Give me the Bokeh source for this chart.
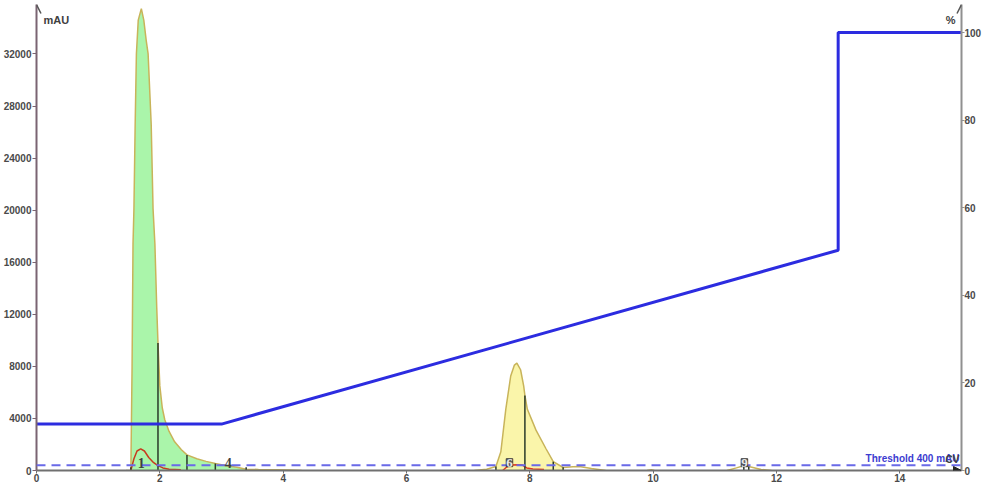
import numpy as np
from bokeh.plotting import figure
from bokeh.models import (Range1d, LinearAxis, FixedTicker, Arrow, OpenHead, NormalHead,
                          Label, LabelSet, ColumnDataSource, Span)
from bokeh.embed import file_html
from bokeh.resources import INLINE

# ---------------- data ----------------
peak1_cv = [1.45, 1.50, 1.53, 1.55, 1.565, 1.58, 1.60, 1.62, 1.65, 1.70, 1.74, 1.78, 1.81, 1.86,
            1.89, 1.92, 1.95, 1.97, 2.00, 2.04, 2.08, 2.15, 2.24, 2.35, 2.44, 2.60, 2.75, 2.90,
            3.10, 3.25, 3.40, 3.60, 3.90, 4.10, 4.30]
peak1_mau = [0, 0, 0, 8000, 17400, 20100, 26600, 32000, 34600, 35480, 34600, 33000, 32000, 26600,
             20100, 17400, 12500, 9800, 6500, 4800, 3900, 3000, 2200, 1600, 1200, 900, 700, 530,
             350, 250, 100, 80, 60, 40, 0]
peak2_cv = [7.10, 7.30, 7.45, 7.53, 7.61, 7.69, 7.75, 7.79, 7.85, 7.90, 7.92, 7.96, 8.10, 8.26,
            8.38, 8.54, 8.70, 8.80, 9.00, 9.23]
peak2_mau = [0, 100, 300, 1440, 4700, 7260, 8100, 8250, 7740, 6500, 5770, 4700, 3100, 1690,
             680, 230, 280, 300, 150, 0]
blip1_cv = [9.90, 9.97, 10.02]
blip1_mau = [0, 60, 0]
peak3_cv = [11.20, 11.35, 11.48, 11.60, 11.75, 11.92]
peak3_mau = [0, 200, 380, 250, 80, 0]
blip2_cv = [12.74, 12.85, 12.94]
blip2_mau = [0, 40, 0]

red1_cv = [1.53, 1.58, 1.63, 1.69, 1.75, 1.82, 1.90, 1.97, 2.05, 2.15, 2.34]
red1_mau = [0, 900, 1500, 1660, 1500, 1000, 600, 380, 200, 100, 60]
red2_cv = [7.56, 7.62, 7.69, 7.80, 7.88, 7.95, 8.05, 8.23]
red2_mau = [0, 250, 430, 450, 420, 200, 120, 80]

grad_cv = [0, 3, 13, 13, 15]
grad_pct = [10.6, 10.6, 50.3, 100, 100]

frac_cv = [1.53, 1.97, 2.44, 2.90, 3.40, 7.45, 7.92, 8.38, 8.54, 11.47, 11.55]
pool1 = (1.53, 3.40)
pool2 = (7.45, 8.54)

label_cv = [1.70, 3.11]
label_mau = [600, 600]
label_txt = ["1", "4"]
label2_cv = [7.67, 11.48]
label2_mau = [600, 600]
label2_txt = ["6", "9"]

threshold = 400
x_ticks = [0, 2, 4, 6, 8, 10, 12, 14]
y_ticks = [0, 4000, 8000, 12000, 16000, 20000, 24000, 28000, 32000]
pct_ticks = [0, 20, 40, 60, 80, 100]

Y_END = 35800
PCT_END = 106.4

# ---------------- figure ----------------
p = figure(width=984, height=484, x_range=Range1d(0, 15), y_range=Range1d(0, Y_END),
           output_backend="svg", toolbar_location=None,
           min_border_top=4, min_border_left=0, min_border_right=0, min_border_bottom=0)
p.extra_y_ranges = {"pct": Range1d(0, PCT_END)}
p.grid.visible = False
p.outline_line_color = None
p.background_fill_color = "white"

FONT = "Liberation Sans"
LABEL_COL = "#4a4a4a"

def style_axis(ax, color, tick_out=4, standoff=1):
    ax.axis_line_color = color
    ax.axis_line_width = 2
    ax.major_tick_line_color = color
    ax.major_tick_out = tick_out
    ax.major_tick_in = 0
    ax.minor_tick_line_color = None
    ax.major_label_text_font = FONT
    ax.major_label_text_font_size = "10px"
    ax.major_label_text_font_style = "bold"
    ax.major_label_text_color = LABEL_COL
    ax.major_label_standoff = standoff

p.xaxis.ticker = FixedTicker(ticks=x_ticks)
style_axis(p.xaxis[0], "#707070", tick_out=3, standoff=0)
p.yaxis.ticker = FixedTicker(ticks=y_ticks)
style_axis(p.yaxis[0], "#7a6472")

rax = LinearAxis(y_range_name="pct", ticker=FixedTicker(ticks=pct_ticks))
style_axis(rax, "#909090", tick_out=3, standoff=0)
p.add_layout(rax, "right")

# ---------------- chromatogram ----------------
segs = [(peak1_cv, peak1_mau), (peak2_cv, peak2_mau), (blip1_cv, blip1_mau),
        (peak3_cv, peak3_mau), (blip2_cv, blip2_mau)]

def pool_area(cv, mau, lo, hi):
    cv = np.array(cv); mau = np.array(mau)
    m = (cv >= lo - 1e-9) & (cv <= hi + 1e-9)
    return cv[m], mau[m]

g_x, g_y = pool_area(peak1_cv, peak1_mau, *pool1)
p.varea(x=g_x, y1=0, y2=g_y, fill_color="#aaf5aa")
y_x, y_y = pool_area(peak2_cv, peak2_mau, *pool2)
p.varea(x=y_x, y1=0, y2=y_y, fill_color="#faf5aa")

for cv, mau in segs:
    p.line(cv, mau, line_color="#c8b45a", line_width=1.5)

p.line(red1_cv, red1_mau, line_color="#c83a1e", line_width=1.5)
p.line(red2_cv, red2_mau, line_color="#e03a20", line_width=1.5)

# fraction marks
all_cv = np.concatenate([np.array(c) for c, _ in segs])
all_mau = np.concatenate([np.array(m) for _, m in segs])
order = np.argsort(all_cv)
frac_h = np.interp(frac_cv, all_cv[order], all_mau[order])
frac_h = np.maximum(frac_h, 250)
p.segment(x0=frac_cv, y0=[0] * len(frac_cv), x1=frac_cv, y1=frac_h,
          line_color="#2a3a2a", line_width=1.5)

# threshold
p.add_layout(Span(location=threshold, dimension="width", line_color="#6a6ae8",
                  line_width=2, line_dash="9 6"))

# gradient
p.line(grad_cv, grad_pct, y_range_name="pct", line_color="#2c2ce0", line_width=3)

# fraction labels
src1 = ColumnDataSource(dict(x=label_cv, y=label_mau, t=label_txt))
p.add_layout(LabelSet(x="x", y="y", text="t", source=src1, text_align="center",
                      text_baseline="middle", text_font=FONT, text_font_size="14px",
                      text_font_style="bold", text_color="#404040"))
src2 = ColumnDataSource(dict(x=label2_cv, y=label2_mau, t=label2_txt))
p.add_layout(LabelSet(x="x", y="y", text="t", source=src2, text_align="center",
                      text_baseline="middle", text_font=FONT, text_font_size="13px",
                      text_font_style="bold", text_color="#e8e8e8",
                      border_line_color="#404040", border_line_width=1,
                      background_fill_color="#505050", background_fill_alpha=0.9))

# axis arrows
p.add_layout(Arrow(end=OpenHead(size=9, line_color="#555555", line_width=1.5),
                   x_start=0, y_start=0, x_end=0, y_end=Y_END, line_alpha=0))
p.add_layout(Arrow(end=OpenHead(size=9, line_color="#555555", line_width=1.5),
                   x_start=15, y_start=0, x_end=15, y_end=Y_END, line_alpha=0))
p.add_layout(Arrow(end=NormalHead(size=8, fill_color="#222222", line_color="#222222"),
                   x_start=14.5, y_start=0, x_end=15, y_end=0, line_alpha=0))

# texts
p.add_layout(Label(x=0, y=Y_END, text="mAU", x_offset=7, y_offset=-9, text_baseline="top",
                   text_font=FONT, text_font_size="11px", text_font_style="bold",
                   text_color="#404040"))
p.add_layout(Label(x=15, y=Y_END, text="%", x_offset=-6, y_offset=-9, text_baseline="top",
                   text_align="right", text_font=FONT, text_font_size="11px",
                   text_font_style="bold", text_color="#404040"))
p.add_layout(Label(x=15, y=threshold, text="Threshold 400 mAU", x_offset=-2, y_offset=1,
                   text_align="right", text_baseline="bottom", text_font=FONT,
                   text_font_size="10px", text_font_style="bold", text_color="#3c3cd0"))
p.add_layout(Label(x=15, y=0, text="CV", x_offset=-2, y_offset=6, text_align="right",
                   text_baseline="bottom", text_font=FONT, text_font_size="10px",
                   text_font_style="bold", text_color="#404040"))

open("out.html", "w").write(file_html(p, INLINE))
